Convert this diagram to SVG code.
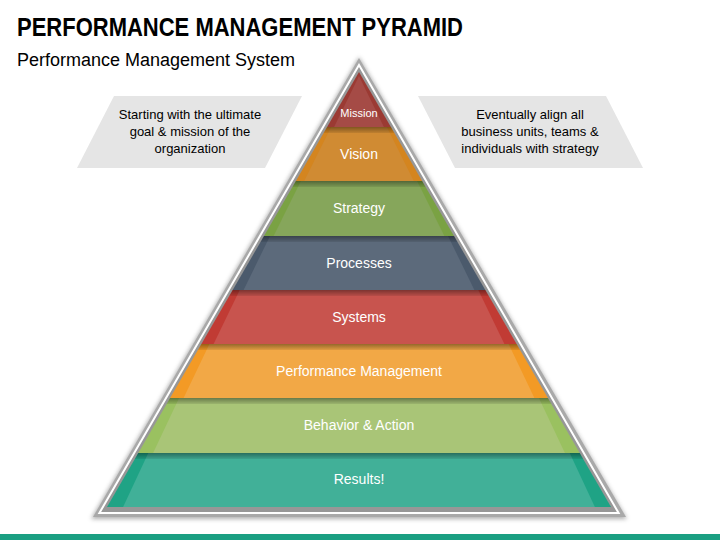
<svg xmlns="http://www.w3.org/2000/svg" width="720" height="540" viewBox="0 0 720 540">
  <style>
    .title { font-family: "Liberation Sans", Arial, sans-serif; font-weight: bold; font-size: 26px; fill: #000; }
    .sub { font-family: "Liberation Sans", Arial, sans-serif; font-size: 18px; fill: #000; }
    .note { font-family: "Liberation Sans", Arial, sans-serif; font-size: 13px; fill: #000; text-anchor: middle; }
    .lbl { font-family: "Liberation Sans", Arial, sans-serif; font-size: 14px; fill: #fff; text-anchor: middle; }
    .box { fill: #e5e5e5; }
    .band { fill: url(#shade); }
  </style>
  <defs>
    <linearGradient id="shade" x1="0" y1="0" x2="0" y2="1">
      <stop offset="0" stop-color="#000" stop-opacity="0.38"/>
      <stop offset="1" stop-color="#000" stop-opacity="0.08"/>
    </linearGradient>
    <filter id="blur" x="-10%" y="-10%" width="120%" height="120%">
      <feGaussianBlur stdDeviation="2"/>
    </filter>
  </defs>
  <rect width="720" height="540" fill="#fff"/>

  <g id="title">
    <text class="title" x="17" y="36" textLength="446" lengthAdjust="spacingAndGlyphs">PERFORMANCE MANAGEMENT PYRAMID</text>
    <text class="sub" x="17" y="66" textLength="278" lengthAdjust="spacingAndGlyphs">Performance Management System</text>
  </g>

  <g id="note-left">
    <polygon class="box" points="114,96 302,96 265,168 77,168"/>
    <text class="note" x="190" y="119">Starting with the ultimate</text>
    <text class="note" x="190" y="136">goal &amp; mission of the</text>
    <text class="note" x="190" y="153">organization</text>
  </g>

  <g id="note-right">
    <polygon class="box" points="418,96 606,96 643,168 455,168"/>
    <text class="note" x="530" y="119">Eventually align all</text>
    <text class="note" x="530" y="136">business units, teams &amp;</text>
    <text class="note" x="530" y="153">individuals with strategy</text>
  </g>

  <g id="pyramid-frame">
    <polygon points="359,57 627,519 91,519" fill="#8c8c8c" opacity="0.7" filter="url(#blur)"/>
    <polygon points="359,58 626,517 93,517" fill="#a9a9a9"/>
    <polygon points="359,65 618.6,513 99.4,513" fill="#979797" stroke="#ffffff" stroke-width="2"/>
  </g>

  <g id="layer-mission">
    <polygon points="359,72 390.9,127 327.1,127" fill="#9b3a33"/>
    <polygon points="359,76 383.9,127 334.1,127" fill="#a54b46"/>
    <text class="lbl" x="359" y="117" style="font-size:11px">Mission</text>
  </g>

  <g id="layer-vision">
    <polygon points="327.1,127 390.9,127 422.1,181 295.9,181" fill="#d4851f"/>
    <polygon points="331.1,127 386.9,127 413.8,181 304.2,181" fill="#d08b33"/>
    <polygon class="band" points="327.1,127 390.9,127 394.4,133 323.6,133"/>
    <text class="lbl" x="359" y="159">Vision</text>
  </g>

  <g id="layer-strategy">
    <polygon points="295.9,181 422.1,181 454,236 264,236" fill="#7aa243"/>
    <polygon points="300.9,181 417.1,181 444.4,236 273.6,236" fill="#86a65b"/>
    <polygon class="band" points="295.9,181 422.1,181 425.6,187 292.4,187"/>
    <text class="lbl" x="359" y="213">Strategy</text>
  </g>

  <g id="layer-processes">
    <polygon points="264,236 454,236 485.3,290 232.7,290" fill="#4b5a6c"/>
    <polygon points="270,236 448,236 474.4,290 243.6,290" fill="#5c6a7b"/>
    <polygon class="band" points="264,236 454,236 457.5,242 260.5,242"/>
    <text class="lbl" x="359" y="268">Processes</text>
  </g>

  <g id="layer-systems">
    <polygon points="232.7,290 485.3,290 516.6,344 201.4,344" fill="#c13b34"/>
    <polygon points="239.7,290 478.3,290 504.4,344 213.6,344" fill="#c8544e"/>
    <polygon class="band" points="232.7,290 485.3,290 488.8,296 229.2,296"/>
    <text class="lbl" x="359" y="322">Systems</text>
  </g>

  <g id="layer-performance">
    <polygon points="201.4,344 516.6,344 547.9,398 170.1,398" fill="#f39a25"/>
    <polygon points="209.4,344 508.6,344 534.4,398 183.6,398" fill="#f2a846"/>
    <polygon class="band" points="201.4,344 516.6,344 520.1,350 197.9,350"/>
    <text class="lbl" x="359" y="376">Performance Management</text>
  </g>

  <g id="layer-behavior">
    <polygon points="170.1,398 547.9,398 579.7,453 138.3,453" fill="#9ac160"/>
    <polygon points="179.1,398 538.9,398 564.9,453 153.1,453" fill="#a9c577"/>
    <polygon class="band" points="170.1,398 547.9,398 551.4,404 166.6,404"/>
    <text class="lbl" x="359" y="430">Behavior &amp; Action</text>
  </g>

  <g id="layer-results">
    <polygon points="138.3,453 579.7,453 611,507 107,507" fill="#1fa385"/>
    <polygon points="148.3,453 569.7,453 594.9,507 123.1,507" fill="#41b098"/>
    <polygon class="band" points="138.3,453 579.7,453 583.2,459 134.8,459"/>
    <text class="lbl" x="359" y="484">Results!</text>
  </g>

  <g id="footer-bar">
    <rect x="0" y="534" width="720" height="6" fill="#1a9f82"/>
  </g>
</svg>
